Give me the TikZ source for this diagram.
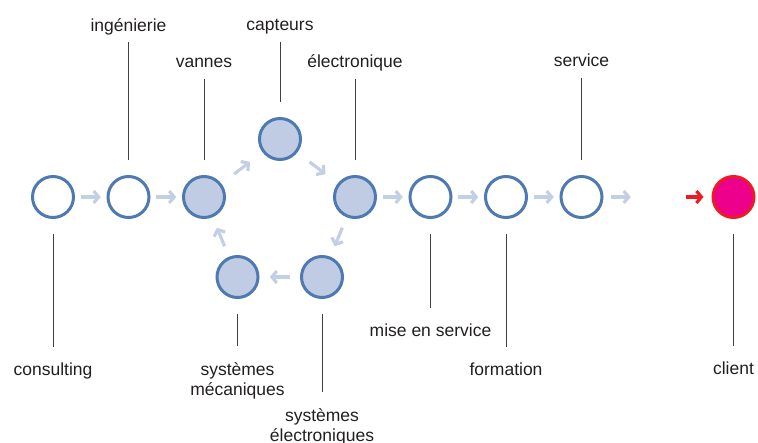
\documentclass[tikz,border=0pt]{standalone}
\usepackage{fontspec}
\setmainfont{Liberation Sans}
\usetikzlibrary{calc,arrows.meta}

\definecolor{ring}{RGB}{78,122,177}
\definecolor{disc}{RGB}{192,204,227}
\definecolor{flowc}{RGB}{195,207,229}
\definecolor{clientfill}{RGB}{236,0,140}
\definecolor{clientring}{RGB}{237,28,36}
\definecolor{txt}{RGB}{35,31,32}

\tikzset{
  stage/.style={circle,draw=ring,line width=3pt,minimum size=41pt,inner sep=0pt,fill=white},
  module/.style={stage,fill=disc},
  target/.style={stage,draw=clientring,fill=clientfill},
  flow/.style={draw=flowc,line width=3.2pt,-{Straight Barb[length=5pt,width=12pt]}},
  lbl/.style={inner sep=0pt,font=\fontsize{17.5pt}{20pt}\selectfont,text=txt},
  onelbl/.style={lbl,text height=13pt,text depth=4.5pt,anchor=base},
  twolbl/.style={lbl,align=center,anchor=north},
  pinup/.style={draw=black!75,line width=1pt,shorten <=6pt,shorten >=15pt},
  pindown/.style={draw=black!75,line width=1pt,shorten <=15pt,shorten >=16pt},
}

\begin{document}
\begin{tikzpicture}[x=1pt,y=-1pt]
\useasboundingbox (0,0) rectangle (758,443);

% Main row
\node[stage] (cons) at (53,197) {};
\node[stage] (ing) at (128.5,197) {};
\node[stage] (mise) at (430.5,197) {};
\node[stage] (form) at (506,197) {};
\node[stage] (serv) at (581.5,197) {};

% Loop of modules
\node[module] (van) at (204,197) {};
\node[module] (capt) at (280,139) {};
\node[module] (elec) at (355,197) {};
\node[module] (syse) at (322,277) {};
\node[module] (sysm) at (237.5,277) {};

% Client
\node[target] (cli) at (733.5,197) {};
\coordinate (gap) at (660,197);

% Flow arrows
\foreach \a/\b in {cons/ing,ing/van,van/capt,capt/elec,elec/syse,syse/sysm,sysm/van,elec/mise,mise/form,form/serv,serv/gap}{
  \draw[flow] ($(\a)!.5!(\b)!10pt!(\a)$) -- ($(\a)!.5!(\b)!10pt!(\b)$);
}
\draw[flow,draw=clientring,shorten <=26pt,shorten >=8pt] (gap) -- (cli);

% Labels above
\node[onelbl] (ling) at (ing |- 0,31.5) {ingénierie};
\node[onelbl] (lcapt) at (capt |- 0,31) {capteurs};
\node[onelbl] (lvan) at (van |- 0,68) {vannes};
\node[onelbl] (lelec) at (elec |- 0,68) {électronique};
\node[onelbl] (lserv) at (serv |- 0,67) {service};

% Labels below
\node[onelbl] (lcons) at (cons |- 0,376) {consulting};
\node[onelbl] (lmise) at (mise |- 0,337) {mise en service};
\node[onelbl] (lform) at (form |- 0,376) {formation};
\node[onelbl] (lcli) at (cli |- 0,375) {client};
\node[twolbl] (lsysm) at (sysm |- 0,362) {systèmes\\mécaniques};
\node[twolbl] (lsyse) at (syse |- 0,408.5) {systèmes\\électroniques};

% Pins
\foreach \n in {ing,capt,van,elec,serv}{
  \draw[pinup] (l\n) -- (\n);
}
\foreach \n in {cons,mise,form,cli,sysm,syse}{
  \draw[pindown] (\n) -- (l\n);
}

\end{tikzpicture}
\end{document}
